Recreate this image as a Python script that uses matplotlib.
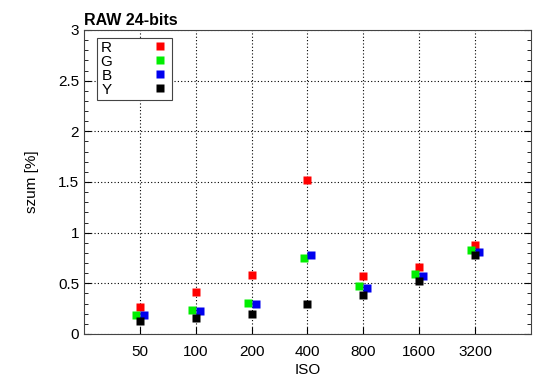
import numpy as np
import matplotlib.pyplot as plt
from matplotlib.ticker import MultipleLocator

plt.rcParams['font.family'] = ['Liberation Sans', 'DejaVu Sans']

# ISO noise values
iso = ['50', '100', '200', '400', '800', '1600', '3200']
r_vals = [0.27, 0.41, 0.58, 1.52, 0.57, 0.66, 0.88]
g_vals = [0.19, 0.24, 0.31, 0.75, 0.47, 0.59, 0.83]
b_vals = [0.19, 0.23, 0.30, 0.78, 0.45, 0.57, 0.81]
y_vals = [0.13, 0.16, 0.20, 0.30, 0.38, 0.52, 0.78]
y_ticks = [0, 0.5, 1, 1.5, 2, 2.5, 3]
y_ticklabels = ['0', '0.5', '1', '1.5', '2', '2.5', '3']

x = np.arange(1, len(iso) + 1)
off = 0.07

fig = plt.figure(figsize=(5.5, 3.89), dpi=100)
ax = fig.add_axes([0.1527, 0.1414, 0.8127, 0.7815])

ms = 6
ax.plot(x, r_vals, 's', color='#ff0000', ms=ms, mec='none', label='R', zorder=3)
ax.plot(x - off, g_vals, 's', color='#00ee00', ms=ms, mec='none', label='G', zorder=3)
ax.plot(x + off, b_vals, 's', color='#0000ee', ms=ms, mec='none', label='B', zorder=4)
ax.plot(x, y_vals, 's', color='black', ms=ms, mec='none', label='Y', zorder=5)

ax.set_xlim(0, 8)
ax.set_ylim(0, 3)
ax.set_xticks(x)
ax.set_xticklabels(iso)
ax.set_yticks(y_ticks)
ax.set_yticklabels(y_ticklabels)
ax.yaxis.set_minor_locator(MultipleLocator(0.1))
ax.tick_params(axis='y', which='both', direction='in', left=True, right=True, labelsize=11)
ax.tick_params(axis='y', which='major', length=5)
ax.tick_params(axis='y', which='minor', length=3)
ax.tick_params(axis='x', direction='in', length=5, labelsize=11, pad=8)

ax.grid(True, color='black', linestyle=(0, (1, 2)), linewidth=0.8)
for s in ax.spines.values():
    s.set_color('#444444')

ax.set_xlabel('ISO', fontsize=11, labelpad=3)
ax.set_ylabel('szum [%]', fontsize=11, labelpad=14)
fig.text(0.1527, 0.935, 'RAW 24-bits', fontsize=11.5, fontweight='bold')

leg = ax.legend(loc='upper left', bbox_to_anchor=(0.03, 0.975), markerfirst=False,
                fontsize=11, frameon=True, fancybox=False, handletextpad=2.5,
                labelspacing=0.0, borderpad=0.2, handlelength=1.2, borderaxespad=0)
leg.get_frame().set_edgecolor('#444444')
leg.get_frame().set_linewidth(0.8)
leg.get_frame().set_alpha(1)

plt.savefig('out.png', dpi=100)
